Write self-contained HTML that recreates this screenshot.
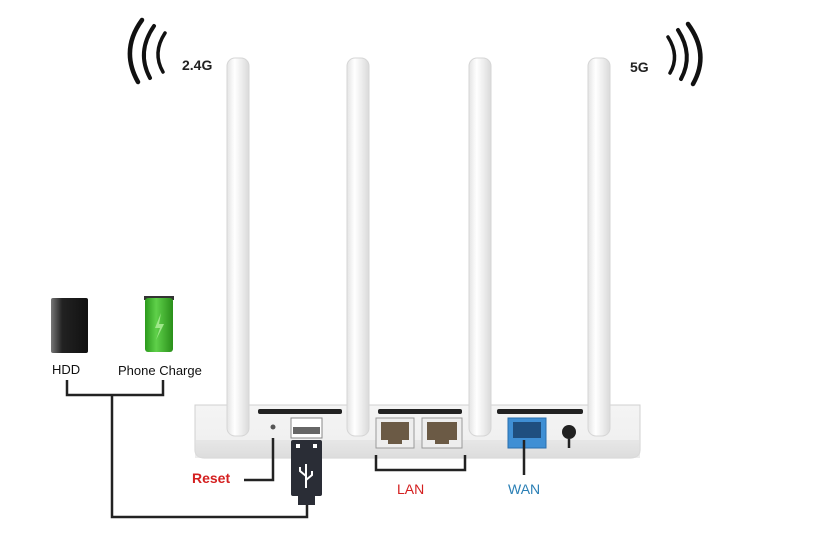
<!DOCTYPE html>
<html><head><style>
html,body{margin:0;padding:0;background:#fff;}
svg{display:block;font-family:"Liberation Sans",Arial,sans-serif;}
</style></head><body>
<svg width="835" height="534" viewBox="0 0 835 534">
<defs>
<linearGradient id="ant" x1="0" x2="1">
<stop offset="0" stop-color="#e4e4e4"/><stop offset="0.35" stop-color="#ffffff"/><stop offset="1" stop-color="#dadada"/>
</linearGradient>
<linearGradient id="body" x1="0" y1="0" x2="0" y2="1">
<stop offset="0" stop-color="#f4f4f4"/><stop offset="0.7" stop-color="#f0f0f0"/><stop offset="1" stop-color="#d8d8d8"/>
</linearGradient>
<linearGradient id="hdd" x1="0" x2="1">
<stop offset="0" stop-color="#777"/><stop offset="0.3" stop-color="#222"/><stop offset="1" stop-color="#111"/>
</linearGradient>
<linearGradient id="bat" x1="0" x2="1">
<stop offset="0" stop-color="#2b9a1c"/><stop offset="0.4" stop-color="#5fd04a"/><stop offset="1" stop-color="#2a8f1a"/>
</linearGradient>
</defs>
<g fill="none" stroke="#111" stroke-linecap="round">
<path d="M142 20 Q120 50 138 82" stroke-width="4.5"/>
<path d="M154 26 Q136 52 150 78" stroke-width="4"/>
<path d="M165 33 Q152 53 163 72" stroke-width="3.5"/>
<path d="M688 24 Q710 54 693 84" stroke-width="4.5"/>
<path d="M678 30 Q694 55 681 79" stroke-width="4"/>
<path d="M668 37 Q680 56 670 73" stroke-width="3.5"/>
</g>
<text x="182" y="70" font-size="14" font-weight="bold" fill="#222">2.4G</text>
<text x="630" y="72" font-size="14" font-weight="bold" fill="#222">5G</text>
<path d="M195 405 L640 405 L640 450 Q640 458 630 458 L205 458 Q195 458 195 450 Z" fill="url(#body)" stroke="#d0d0d0"/>
<rect x="195" y="440" width="445" height="18" fill="#e0e0e0" opacity="0.6"/>
<rect x="258" y="409" width="84" height="5" rx="2" fill="#222"/>
<rect x="378" y="409" width="84" height="5" rx="2" fill="#222"/>
<rect x="497" y="409" width="86" height="5" rx="2" fill="#222"/>
<g fill="url(#ant)" stroke="#d6d6d6">
<rect x="227" y="58" width="22" height="378" rx="8"/>
<rect x="347" y="58" width="22" height="378" rx="8"/>
<rect x="469" y="58" width="22" height="378" rx="8"/>
<rect x="588" y="58" width="22" height="378" rx="8"/>
</g>
<circle cx="273" cy="427" r="2.5" fill="#555"/>
<polyline points="273,438 273,480 244,480" fill="none" stroke="#222" stroke-width="2.5"/>
<text x="192" y="483" font-size="14" font-weight="bold" fill="#d42020">Reset</text>
<rect x="291" y="418" width="31" height="20" fill="#fff" stroke="#888"/>
<rect x="293" y="427" width="27" height="7" fill="#666"/>
<rect x="291" y="440" width="31" height="56" rx="2" fill="#2a2d36"/>
<rect x="298" y="495" width="17" height="10" fill="#2a2d36"/>
<rect x="296" y="444" width="4" height="4" fill="#fff"/><rect x="313" y="444" width="4" height="4" fill="#fff"/>
<path d="M306 464 V488 M306 476 L300 471 V467 M306 480 L312 475 V471" stroke="#fff" stroke-width="2" fill="none"/>
<rect x="376" y="418" width="38" height="30" fill="#eee" stroke="#999"/>
<rect x="381" y="422" width="28" height="18" fill="#6b5a45"/>
<rect x="388" y="438" width="14" height="6" fill="#6b5a45"/>
<rect x="422" y="418" width="40" height="30" fill="#eee" stroke="#999"/>
<rect x="427" y="422" width="30" height="18" fill="#6b5a45"/>
<rect x="435" y="438" width="14" height="6" fill="#6b5a45"/>
<polyline points="376,455 376,470 465,470 465,455" fill="none" stroke="#222" stroke-width="2.5"/>
<text x="397" y="494" font-size="14" fill="#d42020">LAN</text>
<rect x="508" y="418" width="38" height="30" fill="#3f8fd4" stroke="#2a6fae"/>
<rect x="513" y="422" width="28" height="16" fill="#1f4f7f"/>
<line x1="524" y1="440" x2="524" y2="475" stroke="#222" stroke-width="2.5"/>
<text x="508" y="494" font-size="14" fill="#2a7fb5">WAN</text>
<circle cx="569" cy="432" r="7" fill="#222"/>
<line x1="569" y1="439" x2="569" y2="448" stroke="#222" stroke-width="2.5"/>
<rect x="51" y="298" width="37" height="55" rx="2" fill="url(#hdd)"/>
<text x="52" y="374" font-size="13" fill="#111">HDD</text>
<rect x="144" y="296" width="30" height="4" fill="#333"/>
<rect x="145" y="298" width="28" height="54" rx="3" fill="url(#bat)"/>
<path d="M161 313 L155 328 L160 328 L156 340 L164 324 L159 324 Z" fill="#9fe88a"/>
<text x="118" y="375" font-size="13" fill="#111">Phone Charge</text>
<polyline points="67,380 67,395 163,395 163,380" fill="none" stroke="#222" stroke-width="2.5"/>
<polyline points="112,395 112,517 307,517 307,505" fill="none" stroke="#222" stroke-width="2.5"/>
</svg>
</body></html>
